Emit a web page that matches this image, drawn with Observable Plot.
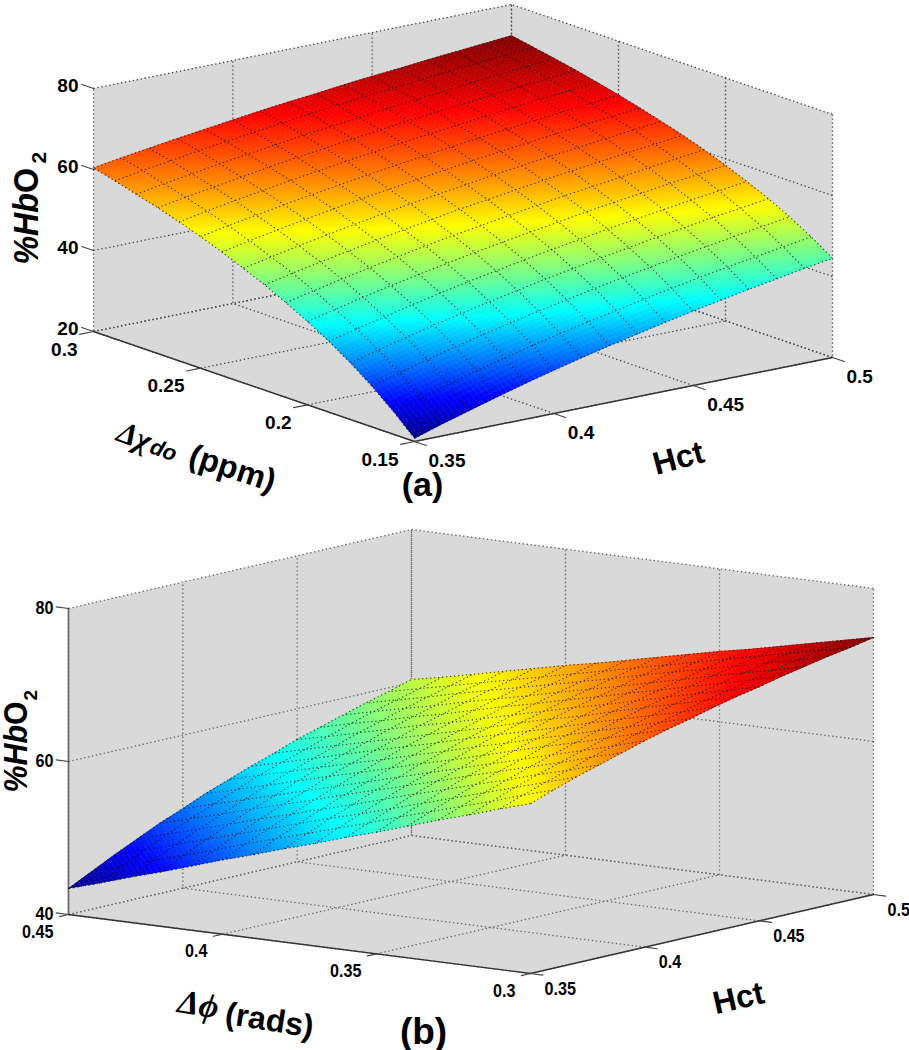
<!DOCTYPE html>
<html>
<head>
<meta charset="utf-8">
<script src="https://cdn.jsdelivr.net/npm/d3@7"></script>
<script src="https://cdn.jsdelivr.net/npm/@observablehq/plot@0.6"></script>
<style>
html,body{margin:0;padding:0;background:#fff;}
svg{display:block;}
</style>
</head>
<body>
<div id="root"></div>
<script>
// ---------- values ----------
const hctNodes = [0.35,0.36,0.37,0.38,0.39,0.40,0.41,0.42,0.43,0.44,0.45,0.46,0.47,0.48,0.49,0.50];
const chiNodes = [0.15,0.16,0.17,0.18,0.19,0.20,0.21,0.22,0.23,0.24,0.25,0.26,0.27,0.28,0.29,0.30];
const phiNodes = [0.30,0.31,0.32,0.33,0.34,0.35,0.36,0.37,0.38,0.39,0.40,0.41,0.42,0.43,0.44,0.45];

// %HbO2 panel (a): one row per chi node, one column per Hct node
const hbA = [
[20.8,23.0,25.0,27.0,28.9,30.7,32.4,34.0,35.5,37.0,38.4,39.7,41.0,42.2,43.4,44.5],
[25.7,27.8,29.7,31.6,33.3,35.0,36.6,38.1,39.5,40.9,42.2,43.5,44.7,45.8,46.9,48.0],
[30.1,32.0,33.9,35.6,37.3,38.8,40.3,41.7,43.1,44.4,45.6,46.8,47.9,49.0,50.1,51.1],
[34.0,35.8,37.5,39.2,40.7,42.2,43.6,45.0,46.2,47.5,48.6,49.8,50.8,51.9,52.8,53.8],
[37.5,39.2,40.8,42.4,43.9,45.3,46.6,47.9,49.1,50.2,51.4,52.4,53.4,54.4,55.3,56.2],
[40.6,42.2,43.8,45.3,46.7,48.0,49.3,50.5,51.6,52.7,53.8,54.8,55.7,56.7,57.5,58.4],
[43.4,45.0,46.5,47.9,49.2,50.5,51.7,52.8,53.9,55.0,56.0,56.9,57.8,58.7,59.6,60.4],
[46.0,47.5,48.9,50.2,51.5,52.7,53.9,55.0,56.0,57.0,58.0,58.9,59.8,60.6,61.4,62.2],
[48.3,49.7,51.1,52.4,53.6,54.8,55.9,56.9,57.9,58.9,59.8,60.7,61.5,62.3,63.1,63.8],
[50.5,51.9,53.2,54.4,55.6,56.7,57.7,58.7,59.7,60.6,61.5,62.3,63.1,63.9,64.6,65.3],
[52.5,53.8,55.0,56.2,57.3,58.4,59.4,60.4,61.3,62.2,63.0,63.8,64.6,65.3,66.0,66.7],
[54.3,55.6,56.8,57.9,59.0,60.0,61.0,61.9,62.8,63.6,64.4,65.2,66.0,66.7,67.3,68.0],
[56.0,57.2,58.3,59.4,60.5,61.5,62.4,63.3,64.2,65.0,65.8,66.5,67.2,67.9,68.5,69.2],
[57.5,58.7,59.8,60.9,61.9,62.8,63.8,64.6,65.4,66.2,67.0,67.7,68.4,69.0,69.7,70.3],
[59.0,60.2,61.2,62.3,63.2,64.1,65.0,65.9,66.6,67.4,68.1,68.8,69.5,70.1,70.7,71.3],
[60.4,61.5,62.5,63.5,64.4,65.3,66.2,67.0,67.7,68.5,69.2,69.8,70.5,71.1,71.7,72.3]
];

// %HbO2 panel (b): one row per phi node, one column per Hct node
const hbB = [
[62.2,63.3,64.3,65.2,66.1,67.0,67.8,68.5,69.3,70.0,70.6,71.3,71.9,72.5,73.0,73.6],
[61.0,62.1,63.1,64.0,65.0,65.8,66.7,67.5,68.2,69.0,69.6,70.3,70.9,71.5,72.1,72.7],
[59.7,60.8,61.9,62.9,63.8,64.7,65.6,66.4,67.2,68.0,68.7,69.3,70.0,70.6,71.2,71.8],
[58.5,59.6,60.7,61.7,62.7,63.6,64.5,65.4,66.2,67.0,67.7,68.4,69.1,69.7,70.3,70.9],
[57.2,58.4,59.5,60.6,61.6,62.5,63.5,64.3,65.2,66.0,66.7,67.4,68.1,68.8,69.4,70.0],
[55.9,57.2,58.3,59.4,60.5,61.4,62.4,63.3,64.1,64.9,65.7,66.5,67.2,67.9,68.5,69.2],
[54.7,55.9,57.1,58.3,59.3,60.3,61.3,62.2,63.1,64.0,64.8,65.5,66.2,67.0,67.6,68.3],
[53.4,54.7,55.9,57.1,58.2,59.2,60.2,61.2,62.1,63.0,63.8,64.6,65.3,66.0,66.7,67.4],
[52.2,53.5,54.8,55.9,57.1,58.1,59.2,60.1,61.1,61.9,62.8,63.6,64.4,65.1,65.8,66.5],
[50.9,52.3,53.6,54.8,56.0,57.0,58.1,59.1,60.0,60.9,61.8,62.7,63.4,64.2,64.9,65.6],
[49.7,51.1,52.4,53.6,54.8,55.9,57.0,58.0,59.0,59.9,60.8,61.7,62.5,63.3,64.0,64.8],
[48.4,49.8,51.2,52.5,53.7,54.8,56.0,57.0,58.0,58.9,59.9,60.7,61.6,62.4,63.1,63.9],
[47.1,48.6,50.0,51.3,52.6,53.7,54.9,56.0,57.0,57.9,58.9,59.8,60.6,61.5,62.2,63.0],
[45.9,47.4,48.8,50.1,51.4,52.6,53.8,54.9,55.9,56.9,57.9,58.8,59.7,60.5,61.3,62.1],
[44.6,46.2,47.6,49.0,50.3,51.5,52.7,53.9,54.9,55.9,56.9,57.9,58.8,59.6,60.4,61.2],
[43.4,44.9,46.4,47.8,49.2,50.4,51.7,52.8,53.9,54.9,56.0,56.9,57.8,58.7,59.5,60.4]
];

const hctTicks = [0.35,0.4,0.45,0.5];
const chiTicks = [0.15,0.2,0.25,0.3];
const phiTicks = [0.3,0.35,0.4,0.45];
const hbTicksA = [20,40,60,80];
const hbTicksB = [40,60,80];

// ---------- MATLAB jet ----------
function jet(t){
  const c = v => Math.round(255*Math.max(0,Math.min(1,v)));
  const r = Math.min(4*t-1.5, -4*t+4.5);
  const g = Math.min(4*t-0.5, -4*t+3.5);
  const b = Math.min(4*t+0.5, -4*t+2.5);
  return `rgb(${c(r)},${c(g)},${c(b)})`;
}

// ---------- one 3-D panel drawn from a view (axonometric, as the original) ----------
const SANS = "'Liberation Sans', Arial, sans-serif";
const SERIF = "'Liberation Serif', 'DejaVu Serif', serif";

function panel(cfg){
  const {view, hNodes, rNodes, table, hTicks, rTicks, zTicks, yDomain, tickSize, tickClass, solidZ, gridStroke, rTickLen, hTickLen, labels} = cfg;
  const [h0,h1] = d3.extent(hTicks), [r0,r1] = d3.extent(rTicks), [z0,z1] = d3.extent(zTicks);
  const P = (h,r,z) => ({
    x: view.o[0] + view.u[0]*(h-h0)/(h1-h0) + view.v[0]*(r-r0)/(r1-r0),
    y: view.o[1] + view.u[1]*(h-h0)/(h1-h0) + view.v[1]*(r-r0)/(r1-r0) + view.w*(z-z0)
  });
  const poly = (pts) => pts.map(p => P(...p));

  // walls and floor
  const walls = [
    poly([[h0,r1,z0],[h1,r1,z0],[h1,r1,z1],[h0,r1,z1]]),
    poly([[h1,r1,z0],[h1,r0,z0],[h1,r0,z1],[h1,r1,z1]]),
    poly([[h0,r0,z0],[h1,r0,z0],[h1,r1,z0],[h0,r1,z0]])
  ];
  // dotted grid
  const grid = [];
  hTicks.forEach(h => grid.push(poly([[h,r0,z0],[h,r1,z0],[h,r1,z1]])));
  rTicks.forEach(r => grid.push(poly([[h0,r,z0],[h1,r,z0],[h1,r,z1]])));
  zTicks.forEach(z => grid.push(poly([[h0,r1,z],[h1,r1,z],[h1,r0,z]])));
  // axes and tick marks
  const axes = [poly([[h0,r1,z0],[h0,r0,z0],[h1,r0,z0]])];
  const tickSegs = [];
  hTicks.forEach(h => tickSegs.push(poly([[h,r0,z0],[h,r0-hTickLen,z0]])));
  rTicks.forEach(r => tickSegs.push(poly([[h0,r,z0],[h0-rTickLen,r,z0]])));
  zTicks.forEach(z => tickSegs.push(poly([[h0,r1,z],[h0,r1+hTickLen,z]])));
  const zAxis = poly([[h0,r1,z0],[h0,r1,z1]]);

  // interpolated shading of each mesh cell
  const S = 6, patches = [];
  let id = 0;
  for (let j=0;j<rNodes.length-1;j++) for (let i=0;i<hNodes.length-1;i++){
    const q = (a,b) => {
      const fa=a/S, fb=b/S;
      const z = (table[j][i]*(1-fa)+table[j][i+1]*fa)*(1-fb) + (table[j+1][i]*(1-fa)+table[j+1][i+1]*fa)*fb;
      const h = hNodes[i]+(hNodes[i+1]-hNodes[i])*fa, r = rNodes[j]+(rNodes[j+1]-rNodes[j])*fb;
      return {z, ...P(h,r,z)};
    };
    for (let a=0;a<S;a++) for (let b=0;b<S;b++){
      const c=[q(a,b),q(a+1,b),q(a+1,b+1),q(a,b+1)];
      const v=d3.mean(c,d=>d.z);
      c.forEach(d=>patches.push({id,x:d.x,y:d.y,v}));
      id++;
    }
  }
  // mesh lines
  const mesh=[];
  hNodes.forEach((h,i)=>rNodes.forEach((r,j)=>mesh.push({k:"h"+i,...P(h,r,table[j][i])})));
  rNodes.forEach((r,j)=>hNodes.forEach((h,i)=>mesh.push({k:"r"+j,...P(h,r,table[j][i])})));

  const flat = arr => arr.flatMap((pts,i)=>pts.map(p=>({...p,k:i})));
  const tickText = {fontFamily:SANS, fontWeight:"bold", fontSize:tickSize, fill:"#000", lineAnchor:"middle", className:tickClass};
  const place = (t) => Plot.text([t.text],{frameAnchor:"top-left",textAnchor:t.anchor||"middle",lineAnchor:"middle",
      dx:t.x,dy:t.y,rotate:t.rotate||0,fontFamily:t.family||SANS,fontWeight:t.weight||"bold",fontStyle:t.style||"normal",fontSize:t.size,fill:"#000",className:t.cls});

  return Plot.plot({
    width:909, height:525,
    margin:0,
    style:{background:"transparent",overflow:"visible"},
    x:{domain:[0,909],range:[0,909],axis:null},
    y:{domain:yDomain,range:[0,525],axis:null},
    color:{type:"linear",domain:d3.extent(table.flat()),interpolate:jet},
    marks:[
      Plot.line(flat(walls),{x:"x",y:"y",z:"k",fill:"#d9d9d9",stroke:"none"}),
      Plot.line(flat(grid),{x:"x",y:"y",z:"k",stroke:gridStroke,strokeWidth:1.3,strokeDasharray:"1.4 2.6",strokeLinecap:"butt",strokeLinejoin:"miter"}),
      solidZ ? Plot.line(zAxis,{x:"x",y:"y",stroke:"#666",strokeWidth:1.6}) : null,
      Plot.line(flat(axes),{x:"x",y:"y",z:"k",stroke:"#333",strokeWidth:1.4}),
      Plot.line(flat(tickSegs),{x:"x",y:"y",z:"k",stroke:"#444",strokeWidth:1.2}),
      Plot.line(patches,{x:"x",y:"y",z:"id",fill:"v",stroke:"v",strokeWidth:0.7}),
      Plot.line(mesh,{x:"x",y:"y",z:"k",stroke:"#111",strokeOpacity:0.8,strokeWidth:1.1,strokeDasharray:"1.3 2.7",strokeLinecap:"butt",strokeLinejoin:"miter"}),
      Plot.text(hTicks,{x:h=>P(h,r0,z0).x,y:h=>P(h,r0,z0).y,text:h=>String(h),textAnchor:"start",dx:cfg.hLabel[0],dy:cfg.hLabel[1],...tickText}),
      Plot.text(rTicks,{x:r=>P(h0,r,z0).x,y:r=>P(h0,r,z0).y,text:r=>String(r),textAnchor:"end",dx:cfg.rLabel[0],dy:cfg.rLabel[1],...tickText}),
      Plot.text(zTicks,{x:z=>P(h0,r1,z).x,y:z=>P(h0,r1,z).y,text:z=>String(z),textAnchor:"end",dx:cfg.zLabel[0],dy:cfg.zLabel[1],...tickText}),
      ...labels.map(place)
    ]
  });
}

const root = document.getElementById("root");
root.append(panel({
  view:{o:[414,441],u:[418,-84],v:[-321,-110],w:-4.05},
  hNodes:hctNodes,rNodes:chiNodes,table:hbA,hTicks:hctTicks,rTicks:chiTicks,zTicks:hbTicksA,
  yDomain:[0,525],tickSize:19,tickClass:"plain",solidZ:false,gridStroke:"#444",rTickLen:0.005,hTickLen:0.0055,
  hLabel:[14,19],rLabel:[-16,18],zLabel:[-15,-3],
  labels:[
    {text:"%Hb",x:26,y:264,rotate:-90,anchor:"start",size:35,style:"italic",cls:"sq92"},
    {text:"O",x:26,y:192.5,rotate:-90,anchor:"start",size:35,cls:"sq92"},
    {text:"2",x:39,y:163,rotate:-90,anchor:"start",size:21},
    {text:"Δχ",x:134,y:436,rotate:20,size:31,style:"italic",family:SERIF},
    {text:"do",x:163,y:450,rotate:20,size:22,style:"italic"},
    {text:"(ppm)",x:232,y:468,rotate:18,size:32},
    {text:"Hct",x:678,y:458,rotate:-15,size:32},
    {text:"(a)",x:422,y:485,size:34}
  ]
}));
root.append(panel({
  view:{o:[530,973],u:[343,-79],v:[-462,-59],w:-7.65},
  hNodes:hctNodes,rNodes:phiNodes,table:hbB,hTicks:hctTicks,rTicks:phiTicks,zTicks:hbTicksB,
  yDomain:[525,1050],tickSize:19,tickClass:"sq85",solidZ:true,gridStroke:"#666",rTickLen:0.004,hTickLen:0.004,
  hLabel:[14,15],rLabel:[-15,17],zLabel:[-15,-1],
  labels:[
    {text:"%Hb",x:16,y:267,rotate:-90,anchor:"start",size:33,style:"italic",cls:"sq92"},
    {text:"O",x:16,y:199.5,rotate:-90,anchor:"start",size:33,cls:"sq92"},
    {text:"2",x:30,y:175,rotate:-90,anchor:"start",size:19},
    {text:"Δϕ",x:198,y:479,rotate:9,size:34,style:"italic",family:SERIF},
    {text:"(rads)",x:269,y:495,rotate:9,size:32},
    {text:"Hct",x:738,y:473,rotate:-13,size:32},
    {text:"(b)",x:423,y:507,size:37}
  ]
}));
// horizontally condensed lettering, as in the reference
[["sq92",0.92],["sq85",0.85]].forEach(([cls,s])=>{
  root.querySelectorAll(`.${cls} text, text.${cls}`).forEach(t=>{
    t.setAttribute("transform",`${t.getAttribute("transform")||""} scale(${s},1)`);
  });
});
</script>
</body>
</html>
